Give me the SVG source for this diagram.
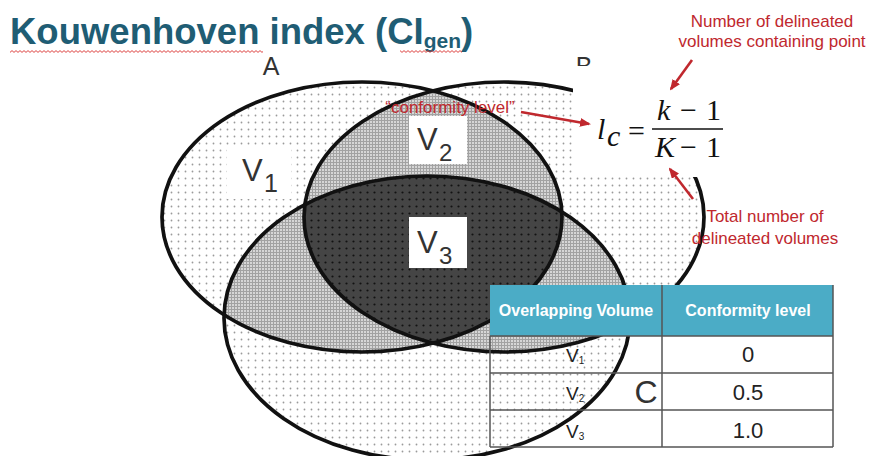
<svg xmlns="http://www.w3.org/2000/svg" width="870" height="456" viewBox="0 0 870 456">
<style>
.ol{fill:none;stroke:#111;stroke-width:3.7}
.lbl{font-family:"Liberation Sans",Arial,sans-serif;fill:#333}
.red{font-family:"Liberation Sans",Arial,sans-serif;fill:#c0282e;font-size:17px;text-anchor:middle}
.arr{stroke:#c0282e;stroke-width:2.6;fill:none;marker-end:url(#ah)}
.mth{font-family:"Liberation Serif","Times New Roman",serif;font-size:30px;fill:#111}
.th{font-family:"Liberation Sans",Arial,sans-serif;font-weight:bold;font-size:16px;fill:#fff;text-anchor:middle}
.td{font-family:"Liberation Sans",Arial,sans-serif;font-size:22px;fill:#222;text-anchor:middle}
.tv{font-family:"Liberation Sans",Arial,sans-serif;font-size:19px;fill:#222}
.grid{stroke:#555;stroke-width:1.5}
</style>
<defs>
<pattern id="dots" width="7" height="7" patternUnits="userSpaceOnUse"><rect width="7" height="7" fill="#fff"/><circle cx="3.5" cy="3.5" r="0.9" fill="#9a9a9a"/></pattern>
<pattern id="grey" width="3" height="3" patternUnits="userSpaceOnUse"><rect width="3" height="3" fill="#d6d6d6"/><path d="M0,0.5H3M0.5,0V3" stroke="#a2a2a2" stroke-width="1"/></pattern>
<pattern id="dark" width="7" height="7" patternUnits="userSpaceOnUse"><rect width="7" height="7" fill="#454545"/><circle cx="3.5" cy="3.5" r="1.1" fill="#121212"/></pattern>
<pattern id="wave" width="4" height="3" x="10" y="50" patternUnits="userSpaceOnUse"><path d="M0,2.4 L2,0.6 L4,2.4" fill="none" stroke="#d9302c" stroke-width="0.9"/></pattern>
<clipPath id="clipA"><ellipse cx="362" cy="217" rx="200" ry="135"/></clipPath>
<clipPath id="clipB"><ellipse cx="504" cy="217" rx="200" ry="135"/></clipPath>
<marker id="ah" markerWidth="11" markerHeight="9" refX="9" refY="4.5" orient="auto" markerUnits="userSpaceOnUse"><path d="M0,0 L11,4.5 L0,9 z" fill="#c0282e"/></marker>
</defs>
<rect width="870" height="456" fill="#fff"/>

<g id="venn">
<ellipse cx="362" cy="217" rx="200" ry="135" fill="url(#dots)"/>
<ellipse cx="504" cy="217" rx="200" ry="135" fill="url(#dots)"/>
<ellipse cx="427" cy="318" rx="203" ry="142" fill="url(#dots)"/>
<g clip-path="url(#clipA)">
<ellipse cx="504" cy="217" rx="200" ry="135" fill="url(#grey)"/>
<ellipse cx="427" cy="318" rx="203" ry="142" fill="url(#grey)"/>
</g>
<g clip-path="url(#clipB)"><ellipse cx="427" cy="318" rx="203" ry="142" fill="url(#grey)"/></g>
<g clip-path="url(#clipA)"><g clip-path="url(#clipB)"><ellipse cx="427" cy="318" rx="203" ry="142" fill="url(#dark)"/></g></g>
<ellipse class="ol" cx="362" cy="217" rx="200" ry="135"/>
<ellipse class="ol" cx="504" cy="217" rx="200" ry="135"/>
<ellipse class="ol" cx="427" cy="318" rx="203" ry="142"/>
</g>

<g id="v1"><rect x="227" y="147" width="64" height="52" fill="#fff"/><text class="lbl" x="242" y="181" font-size="31">V</text><text class="lbl" x="264" y="192" font-size="25">1</text></g>
<g id="v2"><rect x="409" y="116" width="58" height="48" fill="#fff"/><text class="lbl" x="417" y="150" font-size="31">V</text><text class="lbl" x="439" y="161" font-size="24">2</text></g>
<g id="v3"><rect x="409" y="217" width="58" height="51" fill="#fff"/><text class="lbl" x="417" y="253" font-size="31">V</text><text class="lbl" x="439" y="264" font-size="24">3</text></g>

<g id="setlabels">
<text class="lbl" x="271" y="75" font-size="25" text-anchor="middle" fill="#222">A</text>
<text class="lbl" x="584" y="75" font-size="25" text-anchor="middle" fill="#222">B</text>
</g>

<g id="formula">
<rect x="573" y="66" width="131" height="111" fill="#fff"/>
<text class="mth" x="597" y="139" font-style="italic">l</text>
<text class="mth" x="607" y="146" font-size="21" font-style="italic">c</text>
<text class="mth" x="628" y="141">=</text>
<line x1="652" y1="129" x2="723" y2="129" stroke="#111" stroke-width="1.6"/>
<text class="mth" x="657" y="120" font-style="italic">k</text>
<text class="mth" x="680" y="120">−</text>
<text class="mth" x="706" y="120">1</text>
<text class="mth" x="655" y="157" font-style="italic">K</text>
<text class="mth" x="680" y="157">−</text>
<text class="mth" x="706" y="157">1</text>
</g>

<g id="annotations">
<text class="red" x="772" y="27">Number of delineated</text>
<text class="red" x="772" y="47">volumes containing point</text>
<text class="red" x="765" y="222">Total number of</text>
<text class="red" x="765" y="244">delineated volumes</text>
<text class="red" x="450" y="113">“conformity level”</text>
</g>

<g id="connectors">
<line class="arr" x1="692" y1="60" x2="671" y2="89"/>
<line class="arr" x1="521" y1="112" x2="589" y2="124"/>
<line class="arr" x1="693" y1="199" x2="670" y2="169"/>
</g>

<g id="table">
<rect x="490" y="285" width="343" height="51" fill="#4bacc6"/>
<rect x="662" y="336" width="171" height="111" fill="#fff"/>
<text class="th" x="576" y="316">Overlapping Volume</text>
<text class="th" x="748" y="316">Conformity level</text>
<line class="grid" x1="490" y1="336" x2="490" y2="447"/>
<line class="grid" x1="662" y1="285" x2="662" y2="447"/>
<line class="grid" x1="833" y1="285" x2="833" y2="447"/>
<line class="grid" x1="490" y1="336" x2="833" y2="336"/>
<line class="grid" x1="490" y1="373" x2="833" y2="373"/>
<line class="grid" x1="490" y1="410" x2="833" y2="410"/>
<line class="grid" x1="490" y1="447" x2="833" y2="447"/>
<text class="tv" x="566" y="362">V<tspan font-size="10" dy="2">1</tspan></text>
<text class="tv" x="566" y="400">V<tspan font-size="10" dy="2">2</tspan></text>
<text class="tv" x="566" y="438">V<tspan font-size="10" dy="2">3</tspan></text>
<text class="td" x="748" y="362">0</text>
<text class="td" x="748" y="400">0.5</text>
<text class="td" x="748" y="438">1.0</text>
<text class="lbl" x="646" y="403" font-size="32" text-anchor="middle" fill="#444">C</text>
</g>

<g id="title">
<text x="10" y="44" font-family="'Liberation Sans',Arial,sans-serif" font-weight="bold" font-size="36.5" fill="#1f5d74">Kouwenhoven index (CI<tspan font-size="21" dy="4">gen</tspan><tspan dy="-4">)</tspan></text>
<rect x="10" y="50" width="253" height="3" fill="url(#wave)"/>
<rect x="400" y="50" width="62" height="3" fill="url(#wave)"/>
</g>
</svg>
